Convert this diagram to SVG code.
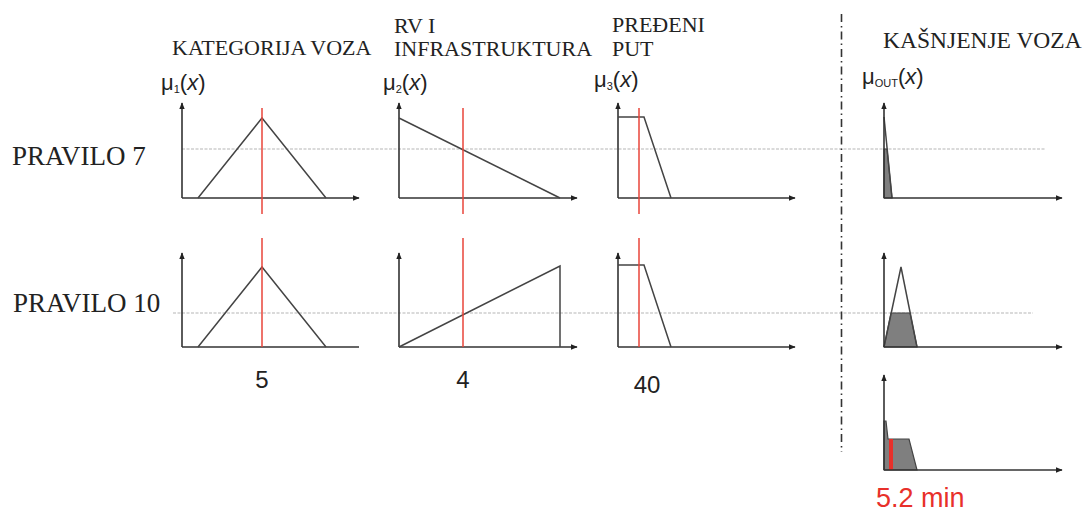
<svg xmlns="http://www.w3.org/2000/svg" width="1090" height="512" viewBox="0 0 1090 512">
<defs>
<marker id="ar" viewBox="0 0 10 10" refX="9" refY="5" markerWidth="7" markerHeight="7" orient="auto" markerUnits="userSpaceOnUse"><path d="M0,1 L10,5 L0,9 z" fill="#222"/></marker>
</defs>
<style>
.ax{stroke:#333;stroke-width:1.6;fill:none}
.mf{stroke:#444;stroke-width:1.5;fill:none}
.red{stroke:#e8443a;stroke-width:1.5}
.cut{stroke:#b5b5b5;stroke-width:1.2;stroke-dasharray:3 1.5}
.fill{fill:#7f7f7f;stroke:#444;stroke-width:1.2}
.ttl{font-family:"Liberation Serif",serif;font-size:22px;fill:#222}
.big{font-size:23.5px}
.rule{font-family:"Liberation Serif",serif;font-size:27px;fill:#222}
.mu{font-family:"Liberation Sans",sans-serif;font-size:22px;fill:#222}
.num{font-family:"Liberation Sans",sans-serif;font-size:24px;fill:#222}
</style>
<rect width="1090" height="512" fill="#fff"/>

<g id="titles">
<text class="ttl" x="172" y="55">KATEGORIJA VOZA</text>
<text class="ttl" x="394" y="33">RV I</text>
<text class="ttl" x="394" y="56">INFRASTRUKTURA</text>
<text class="ttl" x="612" y="32">PREĐENI</text>
<text class="ttl" x="612" y="56">PUT</text>
<text class="ttl big" x="883" y="48">KAŠNJENJE VOZA</text>
</g>

<g id="mu-labels">
<text class="mu" x="161" y="90">μ<tspan font-size="11" dy="3">1</tspan><tspan dy="-3">(<tspan font-style="italic">x</tspan>)</tspan></text>
<text class="mu" x="383" y="90">μ<tspan font-size="11" dy="3">2</tspan><tspan dy="-3">(<tspan font-style="italic">x</tspan>)</tspan></text>
<text class="mu" x="594" y="87">μ<tspan font-size="11" dy="3">3</tspan><tspan dy="-3">(<tspan font-style="italic">x</tspan>)</tspan></text>
<text class="mu" x="862" y="84">μ<tspan font-size="11" dy="3">OUT</tspan><tspan dy="-3">(<tspan font-style="italic">x</tspan>)</tspan></text>
</g>

<g id="rule-labels">
<text class="rule" x="12" y="165">PRAVILO 7</text>
<text class="rule" x="13" y="312">PRAVILO 10</text>
</g>

<g id="cut-lines">
<line class="cut" x1="182" y1="149" x2="1045" y2="149"/>
<line class="cut" x1="173" y1="313" x2="1033" y2="313"/>
</g>

<g id="separator">
<line x1="841.5" y1="14" x2="841.5" y2="452" stroke="#333" stroke-width="1.6" stroke-dasharray="8 4 1.5 4"/>
</g>

<g id="r7-c1">
<path class="ax" d="M182,198 L182,103" marker-end="url(#ar)"/>
<path class="ax" d="M182,198 L359,198" marker-end="url(#ar)"/>
<path class="mf" d="M198,198 L262,118 L326,198"/>
<line class="red" x1="262" y1="108" x2="262" y2="214"/>
</g>
<g id="r7-c2">
<path class="ax" d="M399,198 L399,103" marker-end="url(#ar)"/>
<path class="ax" d="M399,198 L577,198" marker-end="url(#ar)"/>
<path class="mf" d="M399,118 L560,198"/>
<line class="red" x1="463" y1="108" x2="463" y2="214"/>
</g>
<g id="r7-c3">
<path class="ax" d="M618,198 L618,103" marker-end="url(#ar)"/>
<path class="ax" d="M618,198 L795,198" marker-end="url(#ar)"/>
<path class="mf" d="M618,117 L644,117 L671,198"/>
<line class="red" x1="639" y1="108" x2="639" y2="214"/>
</g>
<g id="r7-out">
<polygon class="fill" points="884,149 887,149 892,198 884,198"/>
<path class="mf" d="M884,117 L892,198"/>
<path class="ax" d="M884,198 L884,103" marker-end="url(#ar)"/>
<path class="ax" d="M884,198 L1062,198" marker-end="url(#ar)"/>
</g>

<g id="r10-c1">
<path class="ax" d="M182,347 L182,253" marker-end="url(#ar)"/>
<path class="ax" d="M182,347 L359,347"/>
<path class="mf" d="M198,347 L262,267 L326,347"/>
<line class="red" x1="262" y1="238" x2="262" y2="347"/>
</g>
<g id="r10-c2">
<path class="ax" d="M399,347 L399,253" marker-end="url(#ar)"/>
<path class="ax" d="M399,347 L577,347" marker-end="url(#ar)"/>
<path class="mf" d="M399,347 L560,266 L560,347"/>
<line class="red" x1="463" y1="238" x2="463" y2="347"/>
</g>
<g id="r10-c3">
<path class="ax" d="M618,347 L618,253" marker-end="url(#ar)"/>
<path class="ax" d="M618,347 L795,347" marker-end="url(#ar)"/>
<path class="mf" d="M618,265 L644,265 L671,347"/>
<line class="red" x1="639" y1="238" x2="639" y2="347"/>
</g>
<g id="r10-out">
<polygon class="fill" points="884,347 891,313 910,313 917,347"/>
<path class="mf" d="M884,347 L901,267 L917,347"/>
<path class="ax" d="M884,347 L884,253" marker-end="url(#ar)"/>
<path class="ax" d="M884,347 L1062,347" marker-end="url(#ar)"/>
</g>

<g id="aggregate">
<polygon class="fill" points="884,470 884,421 886,421 888,439 909,439 917,470"/>
<line x1="891" y1="439" x2="891" y2="470" stroke="#e8302a" stroke-width="4"/>
<path class="ax" d="M884,470 L884,375" marker-end="url(#ar)"/>
<path class="ax" d="M884,470 L1062,470" marker-end="url(#ar)"/>
</g>

<g id="values">
<text class="num" x="262" y="388" text-anchor="middle">5</text>
<text class="num" x="463" y="388" text-anchor="middle">4</text>
<text class="num" x="647" y="393" text-anchor="middle">40</text>
<text x="876" y="507" font-family="Liberation Sans, sans-serif" font-size="27" fill="#e8302a">5.2 min</text>
</g>
</svg>
